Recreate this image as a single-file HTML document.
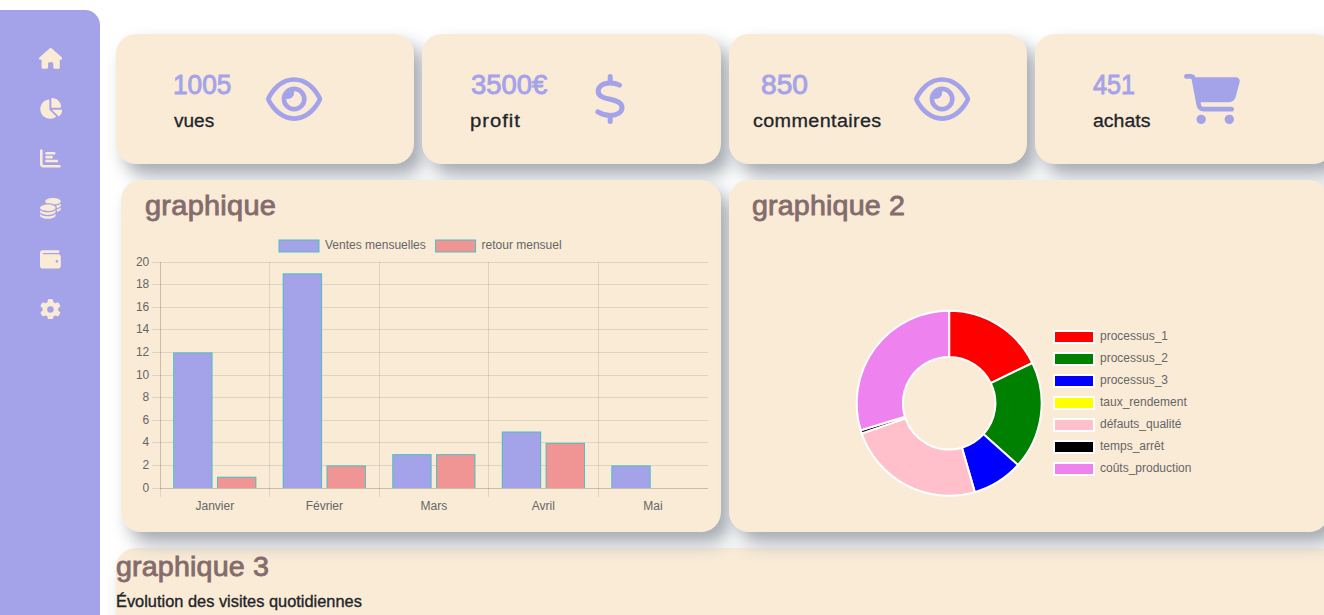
<!DOCTYPE html>
<html lang="fr">
<head>
<meta charset="utf-8">
<title>Dashboard</title>
<style>
  html, body { margin: 0; padding: 0; }
  body {
    width: 1324px; height: 615px; overflow: hidden; position: relative;
    background: #ffffff;
    font-family: "Liberation Sans", sans-serif;
    color: #212529;
  }
  .abs { position: absolute; }
  .sidebar {
    position: absolute; left: 0; top: 10px; width: 100px; height: 700px;
    background: #a4a3e9; border-top-right-radius: 15px;
  }
  .sideicons { position: absolute; left: 0; top: 0; width: 100px; height: 615px; }
  .sideicons svg { position: absolute; fill: #faebd7; }
  .card {
    position: absolute; background: #faebd7; border-radius: 20px;
    box-shadow: 9px 11px 18px rgb(164,170,177);
  }
  .stat { top: 34px; height: 130px; width: 298.33px; }
  .num {
    position: absolute; white-space: nowrap; color: #a4a3e9;
    font-size: 28.1px; line-height: 1; -webkit-text-stroke: 0.9px #a4a3e9;
  }
  .lbl {
    position: absolute; white-space: nowrap; color: #212529;
    font-size: 18.8px; line-height: 1; -webkit-text-stroke: 0.3px #212529;
  }
  .title {
    position: absolute; white-space: nowrap; color: #856c6c;
    font-size: 27.6px; line-height: 1; -webkit-text-stroke: 0.85px #856c6c;
  }
  .sub {
    position: absolute; white-space: nowrap; color: #212529;
    font-size: 16.3px; line-height: 1; -webkit-text-stroke: 0.35px #212529;
  }
  .num, .lbl, .title, .sub { transform-origin: 0 50%; }
  .ico { position: absolute; fill: #a4a3e9; }
  svg text { font-family: "Liberation Sans", sans-serif; font-size: 12px; fill: #666666; }
</style>
</head>
<body>

<!-- graphique 3 (drawn first so upper shadows overlap it) -->
<div class="card" style="left:116px; top:548px; width:1222px; height:120px;"></div>

<!-- stat cards -->
<div class="card stat" style="left:116px;"></div>
<div class="card stat" style="left:422.33px;"></div>
<div class="card stat" style="left:728.67px;"></div>
<div class="card stat" style="left:1035px;"></div>

<!-- chart cards -->
<div class="card" style="left:121px; top:180px; width:600px; height:352px;"></div>
<div class="card" style="left:729px; top:180px; width:600px; height:352px;"></div>

<!-- charts -->
<svg class="abs" viewBox="0 0 1324 615" style="left:0; top:0; width:1324px; height:615px;">
<g stroke="rgba(0,0,0,0.1)" stroke-width="1" shape-rendering="crispEdges" fill="none">
<path d="M152 488.5H707.7"/>
<path d="M152 465.5H707.7"/>
<path d="M152 442.5H707.7"/>
<path d="M152 420.5H707.7"/>
<path d="M152 397.5H707.7"/>
<path d="M152 375.5H707.7"/>
<path d="M152 352.5H707.7"/>
<path d="M152 329.5H707.7"/>
<path d="M152 307.5H707.7"/>
<path d="M152 284.5H707.7"/>
<path d="M152 262.5H707.7"/>
<path d="M160.5 262.0V497.0"/>
<path d="M269.5 262.0V497.0"/>
<path d="M379.5 262.0V497.0"/>
<path d="M488.5 262.0V497.0"/>
<path d="M598.5 262.0V497.0"/>
<path d="M160.5 262.0V489.0"/>
<path d="M160.0 488.5H707.7"/>
</g>
<rect x="173.14" y="352.40" width="39.43" height="135.60" fill="#4bc0c0"/>
<rect x="174.14" y="353.40" width="37.43" height="134.60" fill="#a4a3e9"/>
<rect x="216.96" y="476.70" width="39.43" height="11.30" fill="#4bc0c0"/>
<rect x="217.96" y="477.70" width="37.43" height="10.30" fill="#f09594"/>
<rect x="282.68" y="273.30" width="39.43" height="214.70" fill="#4bc0c0"/>
<rect x="283.68" y="274.30" width="37.43" height="213.70" fill="#a4a3e9"/>
<rect x="326.50" y="465.40" width="39.43" height="22.60" fill="#4bc0c0"/>
<rect x="327.50" y="466.40" width="37.43" height="21.60" fill="#f09594"/>
<rect x="392.22" y="454.10" width="39.43" height="33.90" fill="#4bc0c0"/>
<rect x="393.22" y="455.10" width="37.43" height="32.90" fill="#a4a3e9"/>
<rect x="436.04" y="454.10" width="39.43" height="33.90" fill="#4bc0c0"/>
<rect x="437.04" y="455.10" width="37.43" height="32.90" fill="#f09594"/>
<rect x="501.76" y="431.50" width="39.43" height="56.50" fill="#4bc0c0"/>
<rect x="502.76" y="432.50" width="37.43" height="55.50" fill="#a4a3e9"/>
<rect x="545.58" y="442.80" width="39.43" height="45.20" fill="#4bc0c0"/>
<rect x="546.58" y="443.80" width="37.43" height="44.20" fill="#f09594"/>
<rect x="611.30" y="465.40" width="39.43" height="22.60" fill="#4bc0c0"/>
<rect x="612.30" y="466.40" width="37.43" height="21.60" fill="#a4a3e9"/>
<text x="149.3" y="491.5" text-anchor="end">0</text>
<text x="149.3" y="468.9" text-anchor="end">2</text>
<text x="149.3" y="446.3" text-anchor="end">4</text>
<text x="149.3" y="423.7" text-anchor="end">6</text>
<text x="149.3" y="401.1" text-anchor="end">8</text>
<text x="149.3" y="378.5" text-anchor="end">10</text>
<text x="149.3" y="355.9" text-anchor="end">12</text>
<text x="149.3" y="333.3" text-anchor="end">14</text>
<text x="149.3" y="310.7" text-anchor="end">16</text>
<text x="149.3" y="288.1" text-anchor="end">18</text>
<text x="149.3" y="265.5" text-anchor="end">20</text>
<text x="214.8" y="509.7" text-anchor="middle">Janvier</text>
<text x="324.3" y="509.7" text-anchor="middle">Février</text>
<text x="433.9" y="509.7" text-anchor="middle">Mars</text>
<text x="543.4" y="509.7" text-anchor="middle">Avril</text>
<text x="652.9" y="509.7" text-anchor="middle">Mai</text>
<rect x="279" y="240" width="40" height="12" fill="#a4a3e9" stroke="#4bc0c0" stroke-width="1"/>
<text x="325" y="249.2">Ventes mensuelles</text>
<rect x="435.6" y="240" width="40" height="12" fill="#f09594" stroke="#4bc0c0" stroke-width="1"/>
<text x="481.6" y="249.2">retour mensuel</text>
<g stroke="#ffffff" stroke-width="2" stroke-linejoin="round">
<path fill="#ff0000" d="M949.15 310.75A92.5 92.5 0 0 1 1032.43 362.99L990.79 383.12A46.25 46.25 0 0 0 949.15 357.00Z"/>
<path fill="#008000" d="M1032.43 362.99A92.5 92.5 0 0 1 1018.00 465.02L983.57 434.14A46.25 46.25 0 0 0 990.79 383.12Z"/>
<path fill="#0000ff" d="M1018.00 465.02A92.5 92.5 0 0 1 974.80 492.12L961.98 447.69A46.25 46.25 0 0 0 983.57 434.14Z"/>
<path fill="#ffc0cb" d="M974.80 492.12A92.5 92.5 0 0 1 861.74 433.52L905.45 418.38A46.25 46.25 0 0 0 961.98 447.69Z"/>
<path fill="#000000" d="M861.74 433.52A92.5 92.5 0 0 1 860.69 430.29L904.92 416.77A46.25 46.25 0 0 0 905.45 418.38Z"/>
<path fill="#ee82ee" d="M860.69 430.29A92.5 92.5 0 0 1 949.15 310.75L949.15 357.00A46.25 46.25 0 0 0 904.92 416.77Z"/>
</g>
<rect x="1054" y="331" width="40" height="12" fill="#ff0000" stroke="#ffffff" stroke-width="2"/>
<text x="1100" y="340.4">processus_1</text>
<rect x="1054" y="353" width="40" height="12" fill="#008000" stroke="#ffffff" stroke-width="2"/>
<text x="1100" y="362.4">processus_2</text>
<rect x="1054" y="375" width="40" height="12" fill="#0000ff" stroke="#ffffff" stroke-width="2"/>
<text x="1100" y="384.4">processus_3</text>
<rect x="1054" y="397" width="40" height="12" fill="#ffff00" stroke="#ffffff" stroke-width="2"/>
<text x="1100" y="406.4">taux_rendement</text>
<rect x="1054" y="419" width="40" height="12" fill="#ffc0cb" stroke="#ffffff" stroke-width="2"/>
<text x="1100" y="428.4">défauts_qualité</text>
<rect x="1054" y="441" width="40" height="12" fill="#000000" stroke="#ffffff" stroke-width="2"/>
<text x="1100" y="450.4">temps_arrêt</text>
<rect x="1054" y="463" width="40" height="12" fill="#ee82ee" stroke="#ffffff" stroke-width="2"/>
<text x="1100" y="472.4">coûts_production</text>
</svg>
<!-- /charts -->

<!-- sidebar -->
<div class="sidebar"></div>
<div class="sideicons">
  <svg viewBox="0 0 576 512" style="left:38.60px; top:47.90px; width:23.40px; height:20.8px;"><path d="M575.8 255.5c0 18-15 32.1-32 32.1h-32l.7 160.2c0 2.7-.2 5.4-.5 8.1V472c0 22.1-17.900 40-40 40H456c-1.100 0-2.200 0-3.300-.1c-1.400 .1-2.800 .1-4.200 .1H416 392c-22.100 0-40-17.900-40-40V448 384c0-17.700-14.300-32-32-32H256c-17.700 0-32 14.300-32 32v64 24c0 22.100-17.900 40-40 40H160 128.100c-1.500 0-3-.1-4.500-.2c-1.200 .1-2.400 .2-3.600 .2H104c-22.100 0-40-17.900-40-40V360c0-.9 0-1.900 .1-2.800V287.600H32c-18 0-32-14-32-32.100c0-9 3-17 10-24L266.400 8c7-7 15-8 22-8s15 2 21 7L564.800 231.500c8 7 12 15 11 24z"/></svg>
  <svg viewBox="0 0 576 512" style="left:38.60px; top:98.05px; width:23.40px; height:20.8px;"><path d="M304 240V16.600c0-9 7-16.600 16-16.600C443.700 0 544 100.300 544 224c0 9-7.600 16-16.600 16H304zM32 272C32 150.700 122.100 50.300 239 34.300c9.200-1.300 17 6.100 17 15.400V288L412.500 444.500c6.700 6.700 6.200 17.700-1.500 23.100C371.800 495.600 323.800 512 272 512C139.500 512 32 404.600 32 272zm526.400 16c9.300 0 16.600 7.800 15.400 17c-7.700 55.900-34.600 105.600-73.900 142.300c-6 5.600-15.400 5.200-21.200-.7L320 288H558.400z"/></svg>
  <svg viewBox="0 0 512 512" style="left:39.90px; top:148.20px; width:20.80px; height:20.8px;"><path d="M32 32c17.700 0 32 14.300 32 32V400c0 8.800 7.200 16 16 16H480c17.700 0 32 14.300 32 32s-14.300 32-32 32H80c-44.200 0-80-35.800-80-80V64C0 46.300 14.300 32 32 32zm96 96c0-17.700 14.300-32 32-32l192 0c17.700 0 32 14.300 32 32s-14.300 32-32 32l-192 0c-17.700 0-32-14.300-32-32zm32 64l128 0c17.700 0 32 14.300 32 32s-14.300 32-32 32l-128 0c-17.700 0-32-14.300-32-32s14.300-32 32-32zm0 96l256 0c17.700 0 32 14.300 32 32s-14.300 32-32 32l-256 0c-17.700 0-32-14.300-32-32s14.300-32 32-32z"/></svg>
  <svg viewBox="0 0 512 512" style="left:39.90px; top:198.35px; width:20.80px; height:20.8px;"><path d="M512 80c0 18-14.300 34.600-38.400 48c-29.100 16.100-72.500 27.500-122.300 30.900c-3.700-1.800-7.400-3.500-11.300-5C300.600 137.400 248.200 128 192 128c-8.300 0-16.400 .2-24.500 .6l-1.100-.6C142.300 114.600 128 98 128 80c0-44.200 86-80 192-80S512 35.800 512 80zM160.700 161.100c10.200-.7 20.700-1.100 31.300-1.100c62.200 0 117.400 12.300 152.500 31.400C369.300 204.900 384 221.700 384 240c0 4-.7 7.900-2.100 11.700c-4.600 13.200-17 25.300-35 35.500c0 0 0 0 0 0c-.1 .1-.3 .1-.4 .2l0 0 0 0c-.3 .2-.6 .3-.9 .5c-35 19.400-90.800 32-153.600 32c-59.600 0-112.900-11.300-148.200-29.100c-1.900-.9-3.700-1.900-5.500-2.900C14.300 274.600 0 258 0 240c0-34.800 53.400-64.500 128-75.400c10.500-1.500 21.400-2.700 32.700-3.500zM416 240c0-21.900-10.600-39.900-24.100-53.400c28.300-4.400 54.200-11.400 76.200-20.500c16.300-6.800 31.500-15.200 43.900-25.500V176c0 19.300-16.500 37.100-43.800 50.900c-14.600 7.400-32.400 13.700-52.400 18.500c.1-1.800 .2-3.500 .2-5.300zm-32 96c0 18-14.300 34.600-38.400 48c-1.800 1-3.600 1.900-5.500 2.900C304.900 404.700 251.600 416 192 416c-62.800 0-118.600-12.600-153.600-32C14.300 370.600 0 354 0 336V300.600c12.500 10.300 27.600 18.700 43.900 25.500C83.400 342.600 135.800 352 192 352s108.600-9.400 148.100-25.900c7.800-3.200 15.300-6.900 22.400-10.900c6.100-3.400 11.800-7.200 17.200-11.200c1.500-1.100 2.900-2.300 4.300-3.400V304v5.700V336zm32 0V304 278.100c19-4.200 36.500-9.500 52.100-16c16.300-6.800 31.500-15.200 43.900-25.500V272c0 10.500-5 21-14.900 30.900c-16.300 16.300-45 29.700-81.300 38.400c.1-1.700 .2-3.500 .2-5.300zM192 448c56.200 0 108.600-9.400 148.100-25.900c16.300-6.800 31.500-15.200 43.900-25.500V432c0 44.200-86 80-192 80S0 476.200 0 432V396.600c12.500 10.300 27.600 18.700 43.900 25.500C83.400 438.600 135.800 448 192 448z"/></svg>
  <svg viewBox="0 0 512 512" style="left:39.90px; top:248.50px; width:20.80px; height:20.8px;"><path d="M64 32C28.700 32 0 60.700 0 96V416c0 35.300 28.700 64 64 64H448c35.300 0 64-28.700 64-64V192c0-35.300-28.700-64-64-64H80c-8.800 0-16-7.200-16-16s7.200-16 16-16H448c17.700 0 32-14.300 32-32s-14.300-32-32-32H64zM416 272a32 32 0 1 1 0 64 32 32 0 1 1 0-64z"/></svg>
  <svg viewBox="0 0 512 512" style="left:39.90px; top:298.65px; width:20.80px; height:20.8px;"><path d="M495.900 166.600c3.200 8.700 .5 18.400-6.400 24.600l-43.300 39.400c1.100 8.300 1.700 16.800 1.700 25.400s-.6 17.100-1.700 25.400l43.300 39.400c6.900 6.200 9.600 15.900 6.400 24.600c-4.400 11.900-9.700 23.300-15.800 34.300l-4.700 8.100c-6.600 11-14 21.400-22.100 31.200c-5.900 7.200-15.700 9.600-24.500 6.800l-55.700-17.700c-13.400 10.300-28.200 18.900-44 25.400l-12.500 57.100c-2 9.100-9 16.300-18.200 17.800c-13.800 2.300-28 3.500-42.500 3.500s-28.700-1.200-42.500-3.500c-9.200-1.500-16.200-8.700-18.200-17.800l-12.500-57.100c-15.800-6.500-30.600-15.100-44-25.400L83.100 425.900c-8.800 2.800-18.600 .3-24.500-6.800c-8.100-9.800-15.500-20.200-22.100-31.200l-4.700-8.100c-6.100-11-11.400-22.400-15.800-34.300c-3.200-8.700-.5-18.400 6.400-24.600l43.300-39.400C64.600 273.100 64 264.600 64 256s.6-17.100 1.700-25.400L22.400 191.200c-6.900-6.200-9.600-15.900-6.400-24.600c4.400-11.900 9.700-23.300 15.800-34.300l4.700-8.100c6.600-11 14-21.400 22.100-31.200c5.900-7.200 15.700-9.600 24.500-6.800l55.700 17.700c13.400-10.300 28.200-18.900 44-25.400l12.500-57.100c2-9.100 9-16.300 18.200-17.800C227.300 1.200 241.500 0 256 0s28.700 1.200 42.500 3.500c9.200 1.500 16.200 8.700 18.200 17.800l12.500 57.100c15.800 6.500 30.600 15.100 44 25.400l55.700-17.700c8.800-2.800 18.600-.3 24.500 6.800c8.100 9.800 15.500 20.200 22.100 31.200l4.700 8.100c6.100 11 11.400 22.400 15.800 34.300zM256 336a80 80 0 1 0 0-160 80 80 0 1 0 0 160z"/></svg>
</div>


<!-- card icons -->
<svg class="ico" viewBox="0 0 576 512" style="left:265.9px; top:73.9px; width:56.25px; height:50px;"><path d="M288 80c-65.200 0-118.800 29.600-159.900 67.700C89.600 183.500 63 226 49.400 256c13.600 30 40.200 72.500 78.600 108.300C169.200 402.400 222.800 432 288 432s118.800-29.600 159.900-67.700C486.400 328.500 513 286 526.600 256c-13.600-30-40.200-72.500-78.600-108.300C406.800 109.600 353.200 80 288 80zM95.400 112.600C142.500 68.800 207.200 32 288 32s145.500 36.800 192.600 80.600c46.800 43.500 78.100 95.400 93 131.100c3.300 7.900 3.300 16.700 0 24.600c-14.900 35.700-46.200 87.700-93 131.100C433.500 443.200 368.800 480 288 480s-145.500-36.800-192.600-80.600C48.600 356 17.300 304 2.500 268.300c-3.300-7.900-3.300-16.700 0-24.600C17.300 208 48.600 156 95.400 112.600zM288 336c44.200 0 80-35.800 80-80s-35.800-80-80-80c-.7 0-1.300 0-2 0c1.300 5.100 2 10.500 2 16c0 35.300-28.700 64-64 64c-5.500 0-10.900-.7-16-2c0 .7 0 1.300 0 2c0 44.200 35.800 80 80 80zm0-208a128 128 0 1 1 0 256 128 128 0 1 1 0-256z"/></svg>
<svg class="abs" viewBox="588 70 44 58" style="left:588px; top:70px; width:44px; height:58px;" fill="none" stroke="#a4a3e9" stroke-width="5" stroke-linecap="round" stroke-linejoin="round">
  <path d="M619.5 85.1C617.2 83.9 614.2 82.9 609.8 82.9C603 82.9 598.2 86.4 598.2 91.2C598.2 96.4 603.6 97.8 610.2 99.3C616.9 100.8 622 102.6 622 107.4C622 112.3 617 115.4 610.5 115.4C605.6 115.4 601.6 114.1 597.9 111.8"/>
  <path d="M610.200 76.500V82.500M610.200 115.500V121.400"/>
</svg>
<svg class="ico" viewBox="0 0 576 512" style="left:913.9px; top:73.9px; width:56.25px; height:50px;"><path d="M288 80c-65.200 0-118.800 29.600-159.900 67.700C89.600 183.500 63 226 49.400 256c13.600 30 40.200 72.500 78.600 108.300C169.200 402.400 222.800 432 288 432s118.800-29.600 159.900-67.700C486.400 328.500 513 286 526.600 256c-13.600-30-40.200-72.500-78.600-108.300C406.800 109.600 353.200 80 288 80zM95.400 112.600C142.500 68.800 207.200 32 288 32s145.500 36.800 192.600 80.600c46.800 43.500 78.100 95.400 93 131.100c3.300 7.900 3.300 16.700 0 24.600c-14.900 35.700-46.200 87.700-93 131.100C433.500 443.200 368.800 480 288 480s-145.500-36.800-192.600-80.600C48.600 356 17.300 304 2.500 268.300c-3.300-7.900-3.300-16.700 0-24.600C17.300 208 48.600 156 95.400 112.600zM288 336c44.200 0 80-35.800 80-80s-35.800-80-80-80c-.7 0-1.300 0-2 0c1.300 5.100 2 10.500 2 16c0 35.300-28.700 64-64 64c-5.500 0-10.900-.7-16-2c0 .7 0 1.300 0 2c0 44.200 35.800 80 80 80zm0-208a128 128 0 1 1 0 256 128 128 0 1 1 0-256z"/></svg>
<svg class="ico" viewBox="0 0 576 512" style="left:1184.4px; top:74px; width:56.25px; height:50px;"><path d="M0 24C0 10.700 10.700 0 24 0H69.500c22 0 41.500 12.800 50.600 32h411c26.300 0 45.500 25 38.600 50.400l-41 152.300c-8.500 31.400-37 53.300-69.500 53.300H170.700l5.400 28.500c2.200 11.300 12.100 19.500 23.600 19.500H488c13.300 0 24 10.700 24 24s-10.700 24-24 24H199.700c-34.600 0-64.300-24.600-70.700-58.500L77.400 54.500c-.7-3.800-4-6.500-7.900-6.500H24C10.700 48 0 37.300 0 24zM128 464a48 48 0 1 1 96 0 48 48 0 1 1 -96 0zm336-48a48 48 0 1 1 0 96 48 48 0 1 1 0-96z"/></svg>

<!-- texts -->
<div id="t1" class="num" style="left:172.81px; top:70.55px; transform:scaleX(0.9345); letter-spacing:0px;">1005</div>
<div id="t2" class="lbl" style="left:174.06px; top:112.2px; transform:scaleX(1.014); letter-spacing:0px;">vues</div>
<div id="t3" class="num" style="left:471.11px; top:70.55px; transform:scaleX(0.9767); letter-spacing:0px;">3500€</div>
<div id="t4" class="lbl" style="left:470.11px; top:112.2px; transform:scaleX(1.078); letter-spacing:0.9px;">profit</div>
<div id="t5" class="num" style="left:760.96px; top:70.55px; transform:scaleX(1.0022); letter-spacing:0px;">850</div>
<div id="t6" class="lbl" style="left:752.96px; top:112.2px; transform:scaleX(1.0526); letter-spacing:0.35px;">commentaires</div>
<div id="t7" class="num" style="left:1092.65px; top:70.55px; transform:scaleX(0.8984); letter-spacing:0px;">451</div>
<div id="t8" class="lbl" style="left:1092.96px; top:112.2px; transform:scaleX(1.0367); letter-spacing:0px;">achats</div>

<div id="t9" class="title" style="left:144.9px; top:192.45px; transform:scaleX(1.0492); letter-spacing:0.25px;">graphique</div>
<div id="t10" class="title" style="left:752.06px; top:192.45px; transform:scaleX(1.0381); letter-spacing:0.15px;">graphique 2</div>
<div id="t11" class="title" style="left:116.0px; top:552.8px; transform:scaleX(1.0381); letter-spacing:0.15px;">graphique 3</div>
<div id="t12" class="sub" style="left:115.96px; top:592.55px; transform:scaleX(1.0062); letter-spacing:0px;">Évolution des visites quotidiennes</div>

</body>
</html>
